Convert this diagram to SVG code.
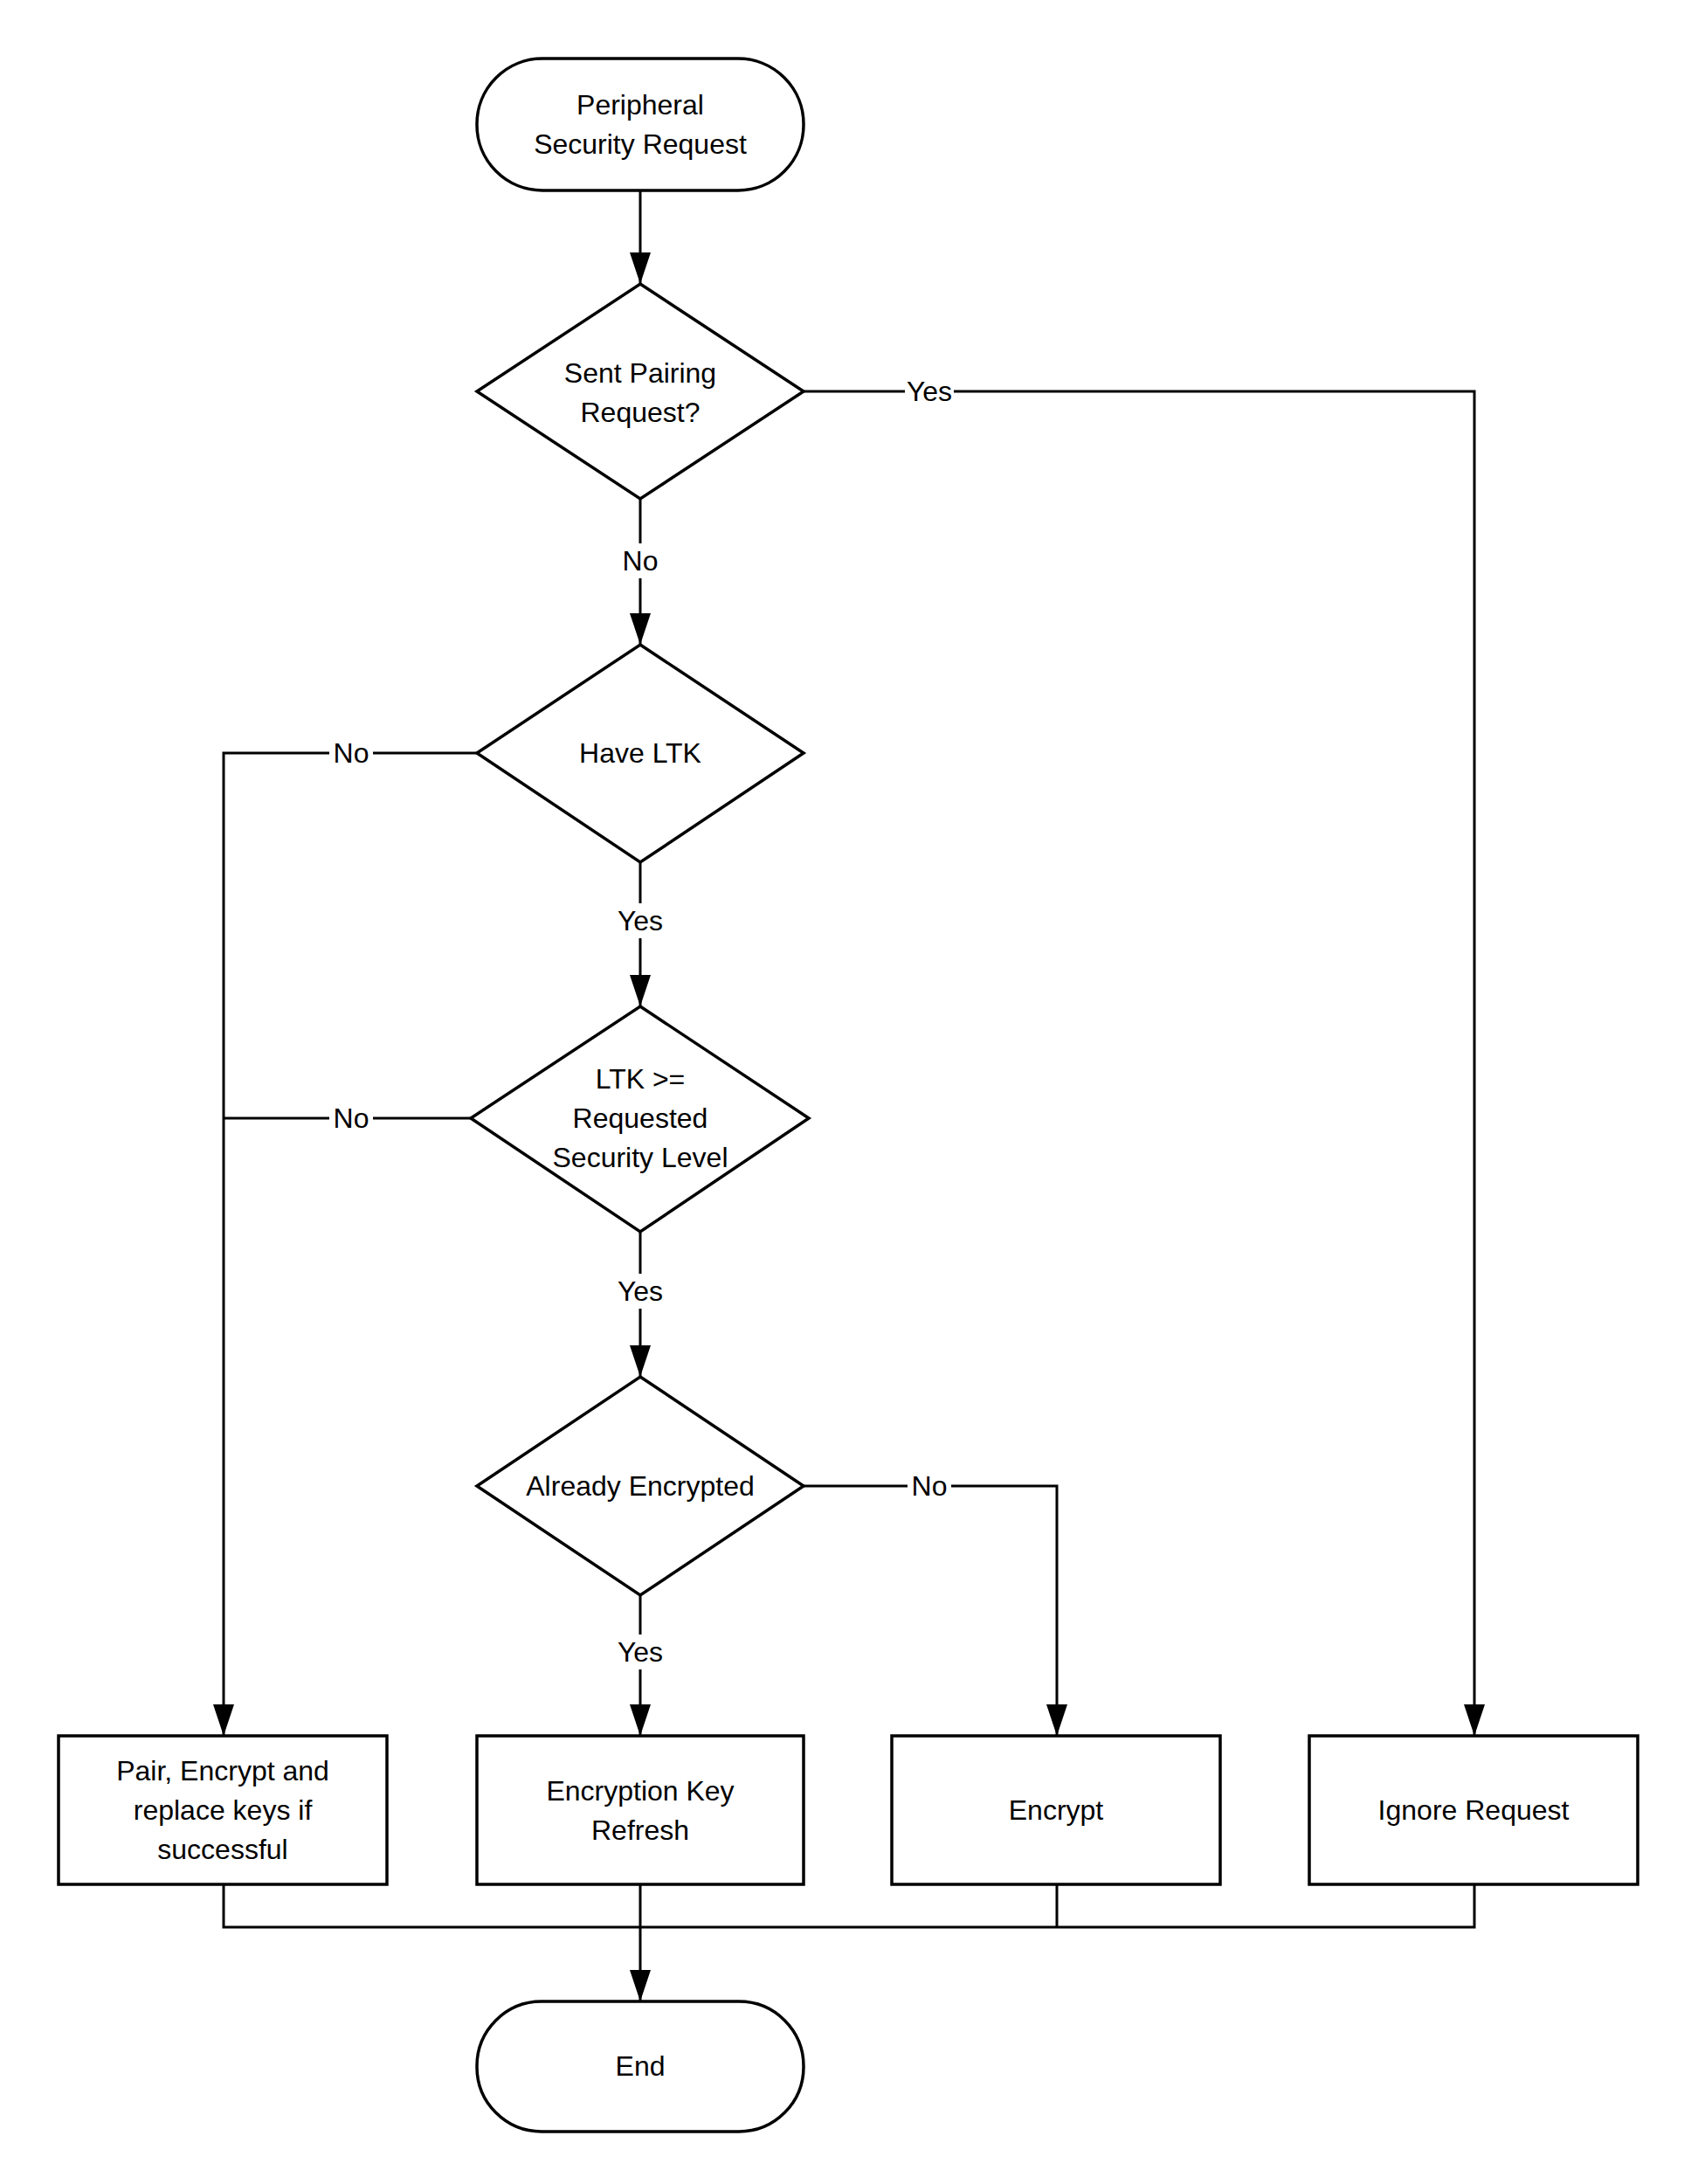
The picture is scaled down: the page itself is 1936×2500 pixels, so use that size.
<svg xmlns="http://www.w3.org/2000/svg" width="1936" height="2500" viewBox="0 0 1936 2500">
<style>
.s{fill:#fff;stroke:#000;stroke-width:3.5}
.c{fill:none;stroke:#000;stroke-width:3}
.t{font-family:"Liberation Sans",Arial,sans-serif;font-size:32px;fill:#000;text-anchor:middle}
.bg{fill:#fff}
</style>
<defs>
<marker id="ah" markerUnits="userSpaceOnUse" markerWidth="36" markerHeight="24" refX="36" refY="12" viewBox="0 0 36 24" orient="auto">
<path d="M0,0 L36,12 L0,24 Z" fill="#000"/>
</marker>
</defs>
<g id="connectors">
<path class="c" d="M733,218 V325" marker-end="url(#ah)"/>
<path class="c" d="M920,448 H1688 V1987" marker-end="url(#ah)"/>
<path class="c" d="M733,571 V738" marker-end="url(#ah)"/>
<path class="c" d="M546,862 H256 V1987" marker-end="url(#ah)"/>
<path class="c" d="M733,987 V1152" marker-end="url(#ah)"/>
<path class="c" d="M539,1280 H256"/>
<path class="c" d="M733,1410 V1576" marker-end="url(#ah)"/>
<path class="c" d="M920,1701 H1210 V1987" marker-end="url(#ah)"/>
<path class="c" d="M733,1826 V1987" marker-end="url(#ah)"/>
<path class="c" d="M256,2157 V2206 H1688 V2157"/>
<path class="c" d="M1210,2157 V2206"/>
<path class="c" d="M733,2157 V2291" marker-end="url(#ah)"/>
<rect class="bg" x="1036" y="428" width="56" height="40"/>
<text class="t" x="1064" y="459">Yes</text>
<rect class="bg" x="708" y="622" width="50" height="40"/>
<text class="t" x="733" y="653">No</text>
<rect class="bg" x="377" y="842" width="50" height="40"/>
<text class="t" x="402" y="873">No</text>
<rect class="bg" x="705" y="1034" width="56" height="40"/>
<text class="t" x="733" y="1065">Yes</text>
<rect class="bg" x="377" y="1260" width="50" height="40"/>
<text class="t" x="402" y="1291">No</text>
<rect class="bg" x="705" y="1458" width="56" height="40"/>
<text class="t" x="733" y="1489">Yes</text>
<rect class="bg" x="1039" y="1681" width="50" height="40"/>
<text class="t" x="1064" y="1712">No</text>
<rect class="bg" x="705" y="1871" width="56" height="40"/>
<text class="t" x="733" y="1902">Yes</text>
</g>
<g id="start">
<rect class="s" x="546" y="67" width="374" height="151" rx="75" ry="75"/>
<text class="t" x="733" y="131">Peripheral</text>
<text class="t" x="733" y="176">Security Request</text>
</g>
<g id="d1">
<polygon class="s" points="733,325 920,448 733,571 546,448"/>
<text class="t" x="733" y="438">Sent Pairing</text>
<text class="t" x="733" y="483">Request?</text>
</g>
<g id="d2">
<polygon class="s" points="733,738 920,862 733,987 546,862"/>
<text class="t" x="733" y="873">Have LTK</text>
</g>
<g id="d3">
<polygon class="s" points="733,1152 926,1280 733,1410 539,1280"/>
<text class="t" x="733" y="1246">LTK &gt;=</text>
<text class="t" x="733" y="1291">Requested</text>
<text class="t" x="733" y="1336">Security Level</text>
</g>
<g id="d4">
<polygon class="s" points="733,1576 920,1701 733,1826 546,1701"/>
<text class="t" x="733" y="1712">Already Encrypted</text>
</g>
<g id="b1">
<rect class="s" x="67" y="1987" width="376" height="170"/>
<text class="t" x="255" y="2038">Pair, Encrypt and</text>
<text class="t" x="255" y="2083">replace keys if</text>
<text class="t" x="255" y="2128">successful</text>
</g>
<g id="b2">
<rect class="s" x="546" y="1987" width="374" height="170"/>
<text class="t" x="733" y="2061">Encryption Key</text>
<text class="t" x="733" y="2106">Refresh</text>
</g>
<g id="b3">
<rect class="s" x="1021" y="1987" width="376" height="170"/>
<text class="t" x="1209" y="2083">Encrypt</text>
</g>
<g id="b4">
<rect class="s" x="1499" y="1987" width="376" height="170"/>
<text class="t" x="1687" y="2083">Ignore Request</text>
</g>
<g id="end">
<rect class="s" x="546" y="2291" width="374" height="149" rx="74" ry="74"/>
<text class="t" x="733" y="2376">End</text>
</g>
</svg>
